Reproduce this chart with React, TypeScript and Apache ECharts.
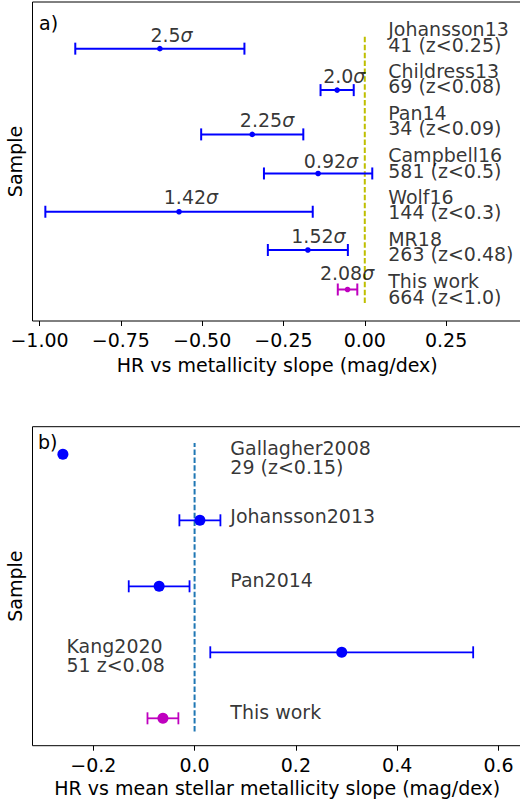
import React, { useEffect, useRef } from "react";
import * as echarts from "echarts";

// ---------- Panel a data ----------
const studiesA = ["Johansson13", "Childress13", "Pan14", "Campbell16", "Wolf16", "MR18", "This work"];
const samplesA = ["41 (z<0.25)", "69 (z<0.08)", "34 (z<0.09)", "581 (z<0.5)", "144 (z<0.3)", "263 (z<0.48)", "664 (z<1.0)"];
const slopeA = [-0.63, -0.085, -0.346, -0.1435, -0.571, -0.175, -0.053];
const errA = [0.26, 0.051, 0.157, 0.1665, 0.411, 0.123, 0.03];
const rowYA = [6.83, 5.79, 4.68, 3.7, 2.74, 1.78, 0.79];
const sigmaA = ["2.5", "2.0", "2.25", "0.92", "1.42", "1.52", "2.08"];
const sigmaLabelXA = [-0.659, -0.128, -0.384, -0.1875, -0.618, -0.226, -0.138];
const sigmaLabelYA = [7.17, 6.15, 5.04, 4.01, 3.1, 2.12, 1.2];
const studyLabelXA = 0.072;
const studyLabelYA = [7.13, 6.08, 5.03, 3.97, 2.92, 1.87, 0.81];
const zeroLineYA = [0.45, 7.17];
const ticksA = [-1.0, -0.75, -0.5, -0.25, 0.0, 0.25];

// ---------- Panel b data ----------
const studiesB = ["Gallagher2008", "Johansson2013", "Pan2014", "Kang2020", "This work"];
const samplesB = ["29 (z<0.15)", "", "", "51 z<0.08", ""];
const slopeB = [-0.26, 0.0105, -0.07, 0.2905, -0.0625];
const errB = [0, 0.0405, 0.06, 0.2595, 0.0305];
const rowYB = [4, 3, 2, 1, 0];
const studyLabelXB = [0.0705, 0.0705, 0.0705, -0.253, 0.0705];
const studyLabelYB = [3.95, 3.065, 2.095, 0.95, 0.095];
const zeroLineYB = [-0.2, 4.17];
const ticksB = [-0.2, 0.0, 0.2, 0.4, 0.6];

const FONT = "DejaVu Sans";
const BLUE = "#0000ff";
const MAGENTA = "#bf00bf";

function errorBarRenderer(color: string, r: number, cap: number, lw: number) {
  return (params: any, api: any) => {
    const x = api.value(0);
    const y = api.value(1);
    const e = api.value(2);
    const pc = api.coord([x, y]);
    const children: any[] = [];
    const style = { stroke: color, lineWidth: lw, fill: "none" };
    if (e > 0) {
      const pl = api.coord([x - e, y]);
      const pr = api.coord([x + e, y]);
      children.push({ type: "line", shape: { x1: pl[0], y1: pl[1], x2: pr[0], y2: pr[1] }, style });
      children.push({ type: "line", shape: { x1: pl[0], y1: pl[1] - cap, x2: pl[0], y2: pl[1] + cap }, style });
      children.push({ type: "line", shape: { x1: pr[0], y1: pr[1] - cap, x2: pr[0], y2: pr[1] + cap }, style });
    }
    children.push({ type: "circle", shape: { cx: pc[0], cy: pc[1], r }, style: { fill: color } });
    return { type: "group", children };
  };
}

const fmtMinus = (s: string) => s.replace("-", "\u2212");

export default function App() {
  const ref = useRef<HTMLDivElement>(null);
  useEffect(() => {
    if (!ref.current) return;
    const chart = echarts.init(ref.current, undefined, { renderer: "svg" });

    const nA = studiesA.length;
    const blueA = slopeA.slice(0, nA - 1).map((v, i) => [v, rowYA[i], errA[i]]);
    const magA = [[slopeA[nA - 1], rowYA[nA - 1], errA[nA - 1]]];
    const nB = studiesB.length;
    const blueB = slopeB.slice(0, nB - 1).map((v, i) => [v, rowYB[i], errB[i]]);
    const magB = [[slopeB[nB - 1], rowYB[nB - 1], errB[nB - 1]]];

    const textStyle = { fontFamily: FONT, fontSize: 19, color: "#000" };

    const xAxisCommon = (min: number, max: number, ticks: number[], digits: number, name: string, gridIndex: number, nameGap: number, margin: number) => ({
      type: "value",
      gridIndex,
      min,
      max,
      axisLine: { show: false, onZero: false },
      splitLine: { show: false },
      axisTick: { show: true, length: 5, customValues: ticks, lineStyle: { color: "#000", width: 1 } },
      axisLabel: {
        customValues: ticks,
        formatter: (v: number) => fmtMinus(v.toFixed(digits)),
        ...textStyle,
        margin,
      },
      name,
      nameLocation: "middle",
      nameGap,
      nameTextStyle: { ...textStyle },
    });

    const yAxisCommon = (min: number, max: number, gridIndex: number) => ({
      type: "value",
      gridIndex,
      min,
      max,
      axisLine: { show: false, onZero: false },
      axisTick: { show: false },
      axisLabel: { show: false },
      splitLine: { show: false },
      name: "Sample",
      nameLocation: "middle",
      nameGap: 8.5,
      nameRotate: 90,
      nameTextStyle: { ...textStyle },
    });

    const textLabelSeries = (xi: number, data: any[], lineHeight: number) => ({
      type: "scatter",
      xAxisIndex: xi,
      yAxisIndex: xi,
      symbolSize: 0,
      silent: true,
      data,
      label: {
        show: true,
        position: [0, 0],
        align: "left",
        verticalAlign: "middle",
        formatter: (p: any) => p.name,
        ...textStyle,
        lineHeight,
      },
      z: 4,
    });

    const gridCommon = {
      left: 32.5,
      width: 489.5,
      height: 319,
      show: true,
      borderColor: "#000",
      borderWidth: 1,
      containLabel: false,
      outerBoundsMode: "none",
    };

    const option: any = {
      animation: false,
      backgroundColor: "#fff",
      textStyle: { fontFamily: FONT },
      grid: [
        { ...gridCommon, top: 2 },
        { ...gridCommon, top: 426.7 },
      ],
      xAxis: [
        xAxisCommon(-1.0215, 0.4833, ticksA, 2, "HR vs metallicity slope (mag/dex)", 0, 34, 9),
        xAxisCommon(-0.32, 0.6464, ticksB, 1, "HR vs mean stellar metallicity slope (mag/dex)", 1, 33, 10),
      ],
      yAxis: [yAxisCommon(0, 8, 0), yAxisCommon(-0.415, 4.418, 1)],
      graphic: [
        { type: "text", left: 39, top: 13, style: { text: "a)", font: `19px "${FONT}"`, fill: "#000" } },
        { type: "text", left: 38, top: 432, style: { text: "b)", font: `19px "${FONT}"`, fill: "#000" } },
      ],
      series: [
        // Panel a
        {
          type: "line",
          xAxisIndex: 0,
          yAxisIndex: 0,
          data: zeroLineYA.map((y) => [0, y]),
          symbol: "none",
          lineStyle: { color: "#bfbf00", width: 2, type: [5.5, 2.4] },
          z: 1,
        },
        {
          type: "custom",
          xAxisIndex: 0,
          yAxisIndex: 0,
          renderItem: errorBarRenderer(BLUE, 2.8, 6, 2),
          data: blueA,
          encode: { x: 0, y: 1 },
          clip: false,
          z: 3,
        },
        {
          type: "custom",
          xAxisIndex: 0,
          yAxisIndex: 0,
          renderItem: errorBarRenderer(MAGENTA, 2.8, 6, 2),
          data: magA,
          encode: { x: 0, y: 1 },
          clip: false,
          z: 3,
        },
        // study names (first line) and sample sizes (second line), 15.7px apart
        textLabelSeries(
          0,
          studiesA.map((s, i) => ({ value: [studyLabelXA, studyLabelYA[i] + 7.85 / 39.875], name: s })),
          15.7
        ),
        textLabelSeries(
          0,
          samplesA.map((s, i) => ({ value: [studyLabelXA, studyLabelYA[i] - 7.85 / 39.875], name: s })),
          15.7
        ),
        {
          type: "scatter",
          xAxisIndex: 0,
          yAxisIndex: 0,
          symbolSize: 0,
          silent: true,
          data: sigmaA.map((s, i) => ({ value: [sigmaLabelXA[i], sigmaLabelYA[i]], name: s })),
          label: {
            show: true,
            position: [0, 0],
            align: "left",
            verticalAlign: "middle",
            formatter: (p: any) => `{n|${p.name}}{s|\u03c3}`,
            rich: {
              n: { fontFamily: FONT, fontSize: 19, color: "#000" },
              s: { fontFamily: FONT, fontSize: 19, color: "#000", fontStyle: "italic" },
            },
          },
          z: 4,
        },
        // Panel b
        {
          type: "line",
          xAxisIndex: 1,
          yAxisIndex: 1,
          data: zeroLineYB.map((y) => [0, y]),
          symbol: "none",
          lineStyle: { color: "#1f77b4", width: 2, type: [5.5, 2.4] },
          z: 1,
        },
        {
          type: "custom",
          xAxisIndex: 1,
          yAxisIndex: 1,
          renderItem: errorBarRenderer(BLUE, 5.5, 6, 1.8),
          data: blueB,
          encode: { x: 0, y: 1 },
          clip: false,
          z: 3,
        },
        {
          type: "custom",
          xAxisIndex: 1,
          yAxisIndex: 1,
          renderItem: errorBarRenderer(MAGENTA, 5.5, 6, 1.8),
          data: magB,
          encode: { x: 0, y: 1 },
          clip: false,
          z: 3,
        },
        textLabelSeries(
          1,
          studiesB.map((s, i) => ({
            value: [studyLabelXB[i], studyLabelYB[i]],
            name: samplesB[i] ? `${s}\n${samplesB[i]}` : s,
          })),
          19.5
        ),
      ],
    };

    chart.setOption(option);
    return () => chart.dispose();
  }, []);

  return (
    <div
      style={{ position: "fixed", left: 0, top: 0, width: 520, height: 805, overflow: "hidden", background: "#fff" }}
    >
      <div ref={ref} style={{ position: "absolute", left: 0, top: 0, width: 540, height: 805 }} />
    </div>
  );
}
